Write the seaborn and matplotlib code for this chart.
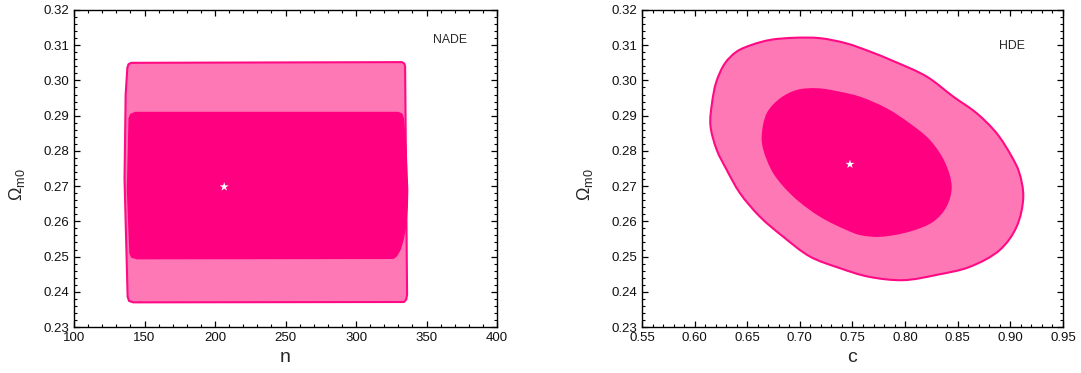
import numpy as np
import matplotlib
matplotlib.use("Agg")
import matplotlib.pyplot as plt
from matplotlib.path import Path
from matplotlib.patches import PathPatch
from matplotlib.ticker import MultipleLocator, FormatStrFormatter
import seaborn as sns

# NADE: n vs Omega_m0 contours (outline vertices)
nade_outer_n = [137.8, 138.6, 140.5, 332.5, 334.2, 334.8, 335.5, 336.2, 335.6, 334.0,
                142.0, 139.0, 138.0, 135.8, 136.6]
nade_outer_om = [0.3036, 0.3046, 0.3050, 0.3052, 0.3048, 0.3040, 0.2720, 0.2392, 0.2378, 0.2371,
                 0.2370, 0.2374, 0.2386, 0.2720, 0.2960]
nade_inner_n = [138.6, 139.8, 143.3, 330.0, 332.8, 334.0, 336.0, 337.1, 336.8, 335.8, 334.0,
                331.8, 329.0, 326.5, 144.5, 140.5, 139.2, 137.4]
nade_inner_om = [0.2893, 0.2905, 0.2911, 0.2911, 0.2906, 0.2893, 0.2800, 0.2689, 0.2640, 0.2590,
                 0.2550, 0.2520, 0.2500, 0.2493, 0.2492, 0.2497, 0.2509, 0.2689]
nade_best = (206.5, 0.2698)

# HDE: c vs Omega_m0 contours
hde_outer_c = [0.6150, 0.6165, 0.6205, 0.6289, 0.6400, 0.6542, 0.6716, 0.6938, 0.7191, 0.7445,
               0.7666, 0.7888, 0.8205, 0.8458, 0.8680, 0.8870, 0.9013, 0.9083, 0.9123, 0.9060,
               0.8901, 0.8616, 0.8300, 0.7983, 0.7650, 0.7381, 0.7096, 0.6843, 0.6621, 0.6431,
               0.6305, 0.6210]
hde_outer_om = [0.2873, 0.2935, 0.2995, 0.3049, 0.3082, 0.3101, 0.3115, 0.3121, 0.3120, 0.3105,
                0.3082, 0.3055, 0.3011, 0.2954, 0.2907, 0.2850, 0.2784, 0.2740, 0.2670, 0.2585,
                0.2519, 0.2471, 0.2448, 0.2433, 0.2443, 0.2467, 0.2500, 0.2556, 0.2613, 0.2680,
                0.2746, 0.2803]
hde_inner_c = [0.6637, 0.6685, 0.6811, 0.6970, 0.7160, 0.7381, 0.7571, 0.7825, 0.8046, 0.8236,
               0.8380, 0.8443, 0.8395, 0.8268, 0.8046, 0.7761, 0.7571, 0.7445, 0.7191, 0.6938,
               0.6748, 0.6653]
hde_inner_om = [0.2840, 0.2907, 0.2949, 0.2973, 0.2978, 0.2968, 0.2954, 0.2921, 0.2878, 0.2831,
                0.2767, 0.2698, 0.2642, 0.2599, 0.2571, 0.2556, 0.2561, 0.2575, 0.2613, 0.2670,
                0.2736, 0.2803]
hde_best = (0.7476, 0.2762)

outer_color = '#FF78B6'
inner_color = '#FF0080'
edge_color = '#FF0A84'


def smooth_closed(ax, xs, ys, alpha=0.5):
    # closed centripetal Catmull-Rom curve through the vertices, as cubic Beziers
    p = np.column_stack([xs, ys])
    q = ax.transData.transform(p)  # only used for the knot spacing
    n = len(p)
    d = np.linalg.norm(q - np.roll(q, 1, axis=0), axis=1) ** alpha  # d[i] = |P_i - P_{i-1}|^a
    verts = [p[0]]
    codes = [Path.MOVETO]
    for i in range(n):
        i0, i1, i2, i3 = (i - 1) % n, i, (i + 1) % n, (i + 2) % n
        p0, p1, p2, p3 = p[i0], p[i1], p[i2], p[i3]
        d1, d2, d3 = d[i1], d[i2], d[i3]
        b1 = (d1 ** 2 * p2 - d2 ** 2 * p0 + (2 * d1 ** 2 + 3 * d1 * d2 + d2 ** 2) * p1) / (3 * d1 * (d1 + d2))
        b2 = (d3 ** 2 * p1 - d2 ** 2 * p3 + (2 * d3 ** 2 + 3 * d3 * d2 + d2 ** 2) * p2) / (3 * d3 * (d3 + d2))
        verts += [b1, b2, p2]
        codes += [Path.CURVE4] * 3
    return Path(verts, codes)


sns.set_theme(style='ticks')
plt.rcParams['font.family'] = ['Liberation Sans', 'DejaVu Sans']
plt.rcParams['mathtext.fontset'] = 'custom'
plt.rcParams['mathtext.rm'] = 'Liberation Sans'
plt.rcParams['mathtext.it'] = 'Liberation Sans'

fig = plt.figure(figsize=(10.81, 3.73), dpi=100)
ax1 = fig.add_axes([0.0685, 0.1233, 0.3913, 0.8499])
ax2 = fig.add_axes([0.5939, 0.1233, 0.3894, 0.8499])

# left panel
ax1.fill(nade_outer_n, nade_outer_om, facecolor=outer_color, edgecolor=edge_color,
         linewidth=1.5, joinstyle='round', zorder=1)
ax1.fill(nade_inner_n, nade_inner_om, facecolor=inner_color, edgecolor='none',
         joinstyle='round', zorder=2)
sns.scatterplot(x=[nade_best[0]], y=[nade_best[1]], marker='*', s=45, color='white',
                edgecolor='none', ax=ax1, zorder=3)
ax1.set_xlim(100, 400)
ax1.set_ylim(0.23, 0.32)
ax1.xaxis.set_major_locator(MultipleLocator(50))
ax1.xaxis.set_minor_locator(MultipleLocator(10))
ax1.set_xlabel('n', fontsize=14, labelpad=4)
ax1.text(0.849, 0.905, 'NADE', transform=ax1.transAxes, fontsize=8.8, va='center')

# right panel
ax2.set_xlim(0.55, 0.95)
ax2.set_ylim(0.23, 0.32)
ax2.add_patch(PathPatch(smooth_closed(ax2, hde_outer_c, hde_outer_om), facecolor=outer_color,
                        edgecolor=edge_color, linewidth=1.5, zorder=1))
ax2.add_patch(PathPatch(smooth_closed(ax2, hde_inner_c, hde_inner_om), facecolor=inner_color,
                        edgecolor='none', zorder=2))
sns.scatterplot(x=[hde_best[0]], y=[hde_best[1]], marker='*', s=45, color='white',
                edgecolor='none', ax=ax2, zorder=3)
ax2.set_xlim(0.55, 0.95)
ax2.set_ylim(0.23, 0.32)
ax2.xaxis.set_major_locator(MultipleLocator(0.05))
ax2.xaxis.set_minor_locator(MultipleLocator(0.01))
ax2.xaxis.set_major_formatter(FormatStrFormatter('%.2f'))
ax2.set_xlabel('c', fontsize=14, labelpad=4)
ax2.text(0.848, 0.887, 'HDE', transform=ax2.transAxes, fontsize=8.8, va='center')

for ax in (ax1, ax2):
    ax.yaxis.set_major_locator(MultipleLocator(0.01))
    ax.yaxis.set_minor_locator(MultipleLocator(0.002))
    ax.yaxis.set_major_formatter(FormatStrFormatter('%.2f'))
    ax.set_ylabel(r'$\Omega_{\rm m0}$', fontsize=13)
    ax.yaxis.set_label_coords(-0.111, 0.448)
    ax.tick_params(which='both', direction='in', top=True, right=True, labelsize=9.5,
                   color='black', labelcolor='#111111')
    ax.tick_params(axis='y', which='major', pad=3.5)
    ax.tick_params(axis='x', which='major', pad=3.5)
    ax.tick_params(which='major', length=4.5, width=0.9)
    ax.tick_params(which='minor', length=2.5, width=0.8)
    for s in ax.spines.values():
        s.set_color('black')
        s.set_linewidth(1.0)

fig.savefig('out.png', dpi=100)
